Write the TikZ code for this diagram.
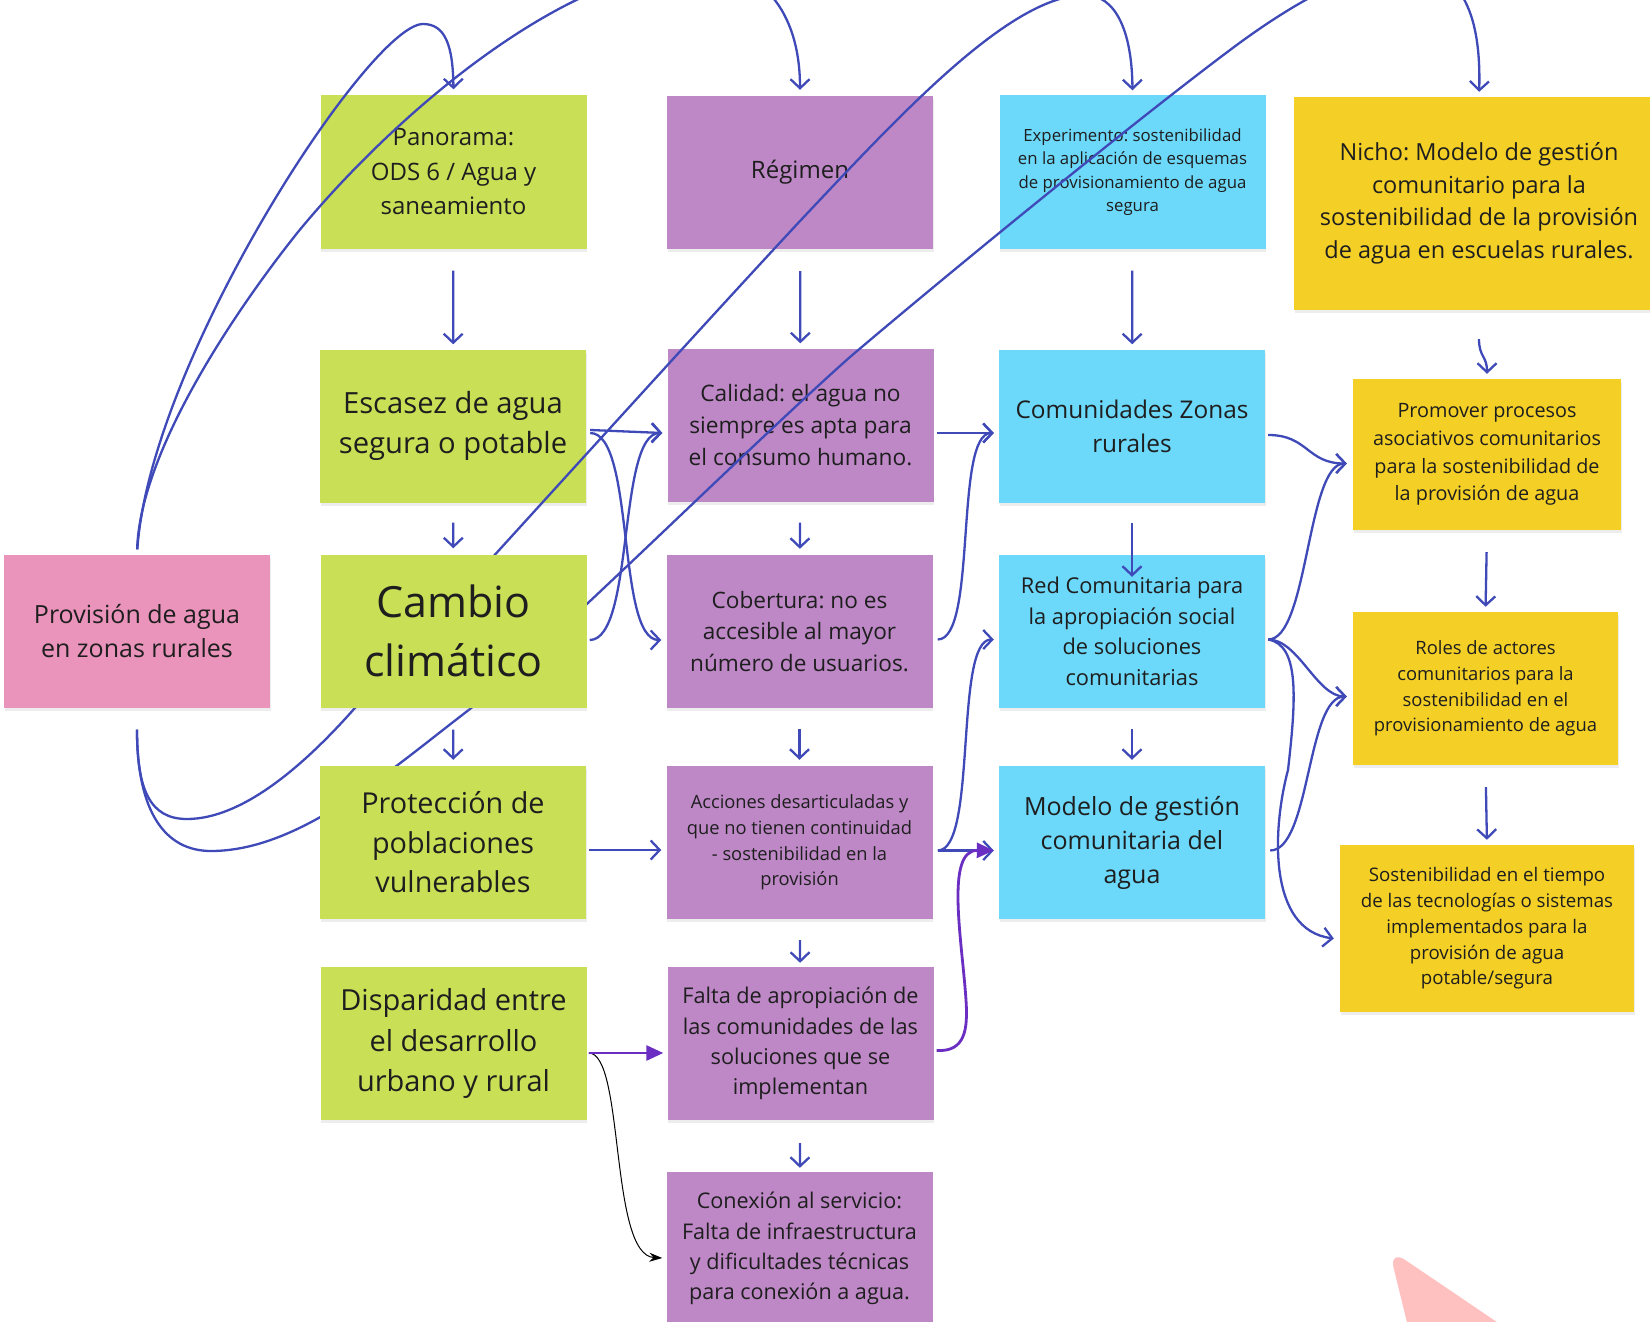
\documentclass[tikz,border=0pt]{standalone}
\usepackage{fontspec}
\setmainfont{Open Sans}
\usetikzlibrary{arrows.meta,calc,shadows}
\definecolor{cgreen}{HTML}{C9DF56}
\definecolor{cviolet}{HTML}{BE88C7}
\definecolor{ccyan}{HTML}{6CD8FA}
\definecolor{cyellow}{HTML}{F4D027}
\definecolor{cpink}{HTML}{EA94BB}
\definecolor{cblue}{HTML}{3F4AB8}
\definecolor{cpurple}{HTML}{6A2EC2}
\definecolor{ctext}{HTML}{1E1E1E}
\definecolor{cblob}{HTML}{FFC0C0}
\newcommand{\myfs}[2]{\fontsize{#1pt}{#2pt}\selectfont}
\frenchspacing
\begin{document}
\begin{tikzpicture}[x=1pt,y=-1pt,
  sticky/.style={minimum width=266pt, minimum height=153pt, inner sep=0pt, align=center, text=ctext,
    drop shadow={shadow xshift=0.5pt, shadow yshift=-3pt, opacity=0.14}},
  arr/.style={draw=cblue, line width=2.3pt, -{Straight Barb[length=9pt,width=19pt]}},
  parr/.style={draw=cpurple, line width=2.8pt, -{Triangle[length=17pt,width=15pt]}},
  barr/.style={draw=black, line width=1pt, -{Stealth[length=13pt,width=9pt]}}
]
\useasboundingbox (0,0) rectangle (1650,1322);
\clip (0,0) rectangle (1650,1322);
\fill[white] (0,0) rectangle (1650,1322);

% decorative blob bottom right
\fill[cblob, rounded corners=20pt] (1389,1249) -- (1612,1400) -- (1426,1400) -- cycle;

% boxes (first layer)
\node[sticky, fill=cgreen, font=\myfs{24}{34.5}] (P) at (453.5,172) {Panorama:\\ODS 6 / Agua y\\saneamiento};
\node[sticky, fill=cviolet, font=\myfs{24}{34}] (R) at (800,172.5) {Régimen};
\node[sticky, fill=ccyan, font=\myfs{16.8}{23.5}] (E) at (1132.5,172) {Experimento: sostenibilidad\\en la aplicación de esquemas\\de provisionamiento de agua\\segura};
\node[sticky, fill=cyellow, minimum width=370pt, minimum height=213pt, font=\myfs{23.5}{32.6}] (N) at (1479,203.5) {Nicho: Modelo de gestión\\comunitario para la\\sostenibilidad de la provisión\\de agua en escuelas rurales.};
\node[sticky, fill=cgreen, font=\myfs{29.2}{40}] (Es) at (453,426) {Escasez de agua\\segura o potable};
\node[sticky, fill=cviolet, font=\myfs{22.7}{31.6}] (Ca) at (800.5,425) {Calidad: el agua no\\siempre es apta para\\el consumo humano.};
\node[sticky, fill=ccyan, font=\myfs{24.4}{33.7}] (Co) at (1132,426) {Comunidades Zonas\\rurales};
\node[sticky, fill=cyellow, minimum width=268pt, minimum height=151pt, font=\myfs{19.8}{27.7}] (Pr) at (1487,454.5) {Promover procesos\\asociativos comunitarios\\para la sostenibilidad de\\la provisión de agua};
\node[sticky, fill=cpink, font=\myfs{25}{33.7}] (Pv) at (137,631) {Provisión de agua\\en zonas rurales};
\node[sticky, fill=cviolet, font=\myfs{22.6}{31.6}] (Cb) at (799.5,631.5) {Cobertura: no es\\accesible al mayor\\número de usuarios.};
\node[sticky, fill=ccyan, font=\myfs{21.8}{30.5}] (Rd) at (1132,631.5) {Red Comunitaria para\\la apropiación social\\de soluciones\\comunitarias};
\node[sticky, fill=cyellow, minimum width=265pt, font=\myfs{18.4}{25.6}] (Ro) at (1485.5,688.5) {Roles de actores\\comunitarios para la\\sostenibilidad en el\\provisionamiento de agua};
\node[sticky, fill=cviolet, font=\myfs{18.3}{25.8}] (Ac) at (799.5,842.5) {Acciones desarticuladas y\\que no tienen continuidad\\- sostenibilidad en la\\provisión};
\node[sticky, fill=ccyan, font=\myfs{25}{34}] (Mo) at (1132,842.5) {Modelo de gestión\\comunitaria del\\agua};
\node[sticky, fill=cyellow, minimum width=294pt, minimum height=167pt, font=\myfs{18.7}{25.8}] (So) at (1487,928.5) {Sostenibilidad en el tiempo\\de las tecnologías o sistemas\\implementados para la\\provisión de agua\\potable/segura};
\node[sticky, fill=cgreen, font=\myfs{29}{40.5}] (Di) at (453.5,1043.5) {Disparidad entre\\el desarrollo\\urbano y rural};
\node[sticky, fill=cviolet, font=\myfs{21.7}{30.2}] (Fa) at (800.5,1043.5) {Falta de apropiación de\\las comunidades de las\\soluciones que se\\implementan};
\node[sticky, fill=cviolet, font=\myfs{21.6}{30.2}] (Cx) at (799.5,1248.5) {Conexión al servicio:\\Falta de infraestructura\\y dificultades técnicas\\para conexión a agua.};

% long curves from Provision
\draw[arr, shorten <=5pt, shorten >=6pt] (Pv.north) .. controls (150,360) and (370,24) .. (423,24) .. controls (445,24) and (453,45) .. (P.north);
\draw[arr, shorten <=5pt, shorten >=6pt] (Pv.north) .. controls (140,450) and (238,307) .. (298,232) .. controls (390,120) and (560,-30) .. (700,-35) .. controls (760,-35) and (800,10) .. (R.north);
\draw[arr, shorten <=22pt, shorten >=5pt] (Pv.south) .. controls (137,790) and (150,819) .. (187,819) .. controls (240,819) and (300,770) .. (354,709) .. controls (500,550) and (680,350) .. (800,221) .. controls (900,115) and (1010,-5) .. (1085,-5) .. controls (1115,-5) and (1132,30) .. (E.north);
\draw[arr, shorten <=22pt, shorten >=5pt] (Pv.south) .. controls (137,812) and (165,851) .. (211,851) .. controls (300,851) and (390,770) .. (470,709) .. controls (560,635) and (740,455) .. (850,357) .. controls (950,272) and (1130,125) .. (1230,50) .. controls (1330,-25) and (1485,-110) .. (N.north);

% boxes drawn above the long curves
\node[sticky, fill=cgreen, font=\myfs{43}{59}] (Cc) at (453.5,631) {Cambio\\climático};
\node[sticky, fill=cgreen, font=\myfs{28.8}{39.5}] (Pt) at (453,842.5) {Protección de\\poblaciones\\vulnerables};

% vertical arrows
\draw[arr, shorten <=22pt, shorten >=5pt] (P) -- (Es);
\draw[arr, shorten <=22pt, shorten >=5pt] (R) -- (Ca);
\draw[arr, shorten <=22pt, shorten >=5pt] (E) -- (Co);
\draw[arr, shorten <=20pt, shorten >=6pt] (Es) -- (Cc);
\draw[arr, shorten <=21pt, shorten >=6pt] (Ca) -- (Cb);
\draw[arr, shorten <=20pt] (Co.south) -- ($(Rd.north)+(0,22)$);
\draw[arr, shorten <=22pt, shorten >=6pt] (Cc) -- (Pt);
\draw[arr, shorten <=21pt, shorten >=6pt] (Cb) -- (Ac);
\draw[arr, shorten <=21pt, shorten >=6pt] (Rd) -- (Mo);
\draw[arr, shorten <=21pt, shorten >=4pt] (Ac) -- (Fa);
\draw[arr, shorten <=23pt, shorten >=4pt] (Fa) -- (Cx);
\draw[arr] ($(N.south)+(0,29)$) .. controls +(0,18) and +(0,-18) .. ($(Pr.north)+(0,-5)$);
\draw[arr, shorten <=22pt, shorten >=5pt] (Pr.south) -- (Ro.north);
\draw[arr, shorten <=22pt, shorten >=5pt] (Ro.south) -- (So.north);

% column 1 -> column 2
\draw[arr] ($(Es.east)+(4,4)$) -- ($(Ca.west)+(-5,8)$);
\draw[arr] ($(Es.east)+(4,7)$) .. controls +(45,0) and +(-45,0) .. ($(Cb.west)+(-5,8.5)$);
\draw[arr] ($(Cc.east)+(3,9)$) .. controls +(45,0) and +(-45,0) .. ($(Ca.west)+(-5,8)$);
\draw[arr] ($(Pt.east)+(3,7.5)$) -- ($(Ac.west)+(-5,7.5)$);
\draw[barr] ($(Di.east)+(2,9.5)$) .. controls +(36,0) and +(-53,-3) .. ($(Cx.west)+(-4,9.5)$);
\draw[parr] ($(Di.east)+(2,9.5)$) -- ($(Fa.west)+(-4,9.5)$);

% column 2 -> column 3
\draw[arr] ($(Ca.east)+(3,8)$) -- ($(Co.west)+(-5,7)$);
\draw[arr] ($(Cb.east)+(5,8)$) .. controls +(40,0) and +(-40,0) .. ($(Co.west)+(-5,7)$);
\draw[arr] ($(Ac.east)+(5,8)$) .. controls +(40,0) and +(-40,0) .. ($(Rd.west)+(-5,8)$);
\draw[arr] ($(Ac.east)+(5,8)$) -- ($(Mo.west)+(-5,8)$);
\draw[parr] ($(Fa.east)+(3,7)$) .. controls (965,1052) and (968,1030) .. (966,1000) .. controls (962,940) and (945,850) .. ($(Mo.west)+(-5,8)$);

% column 3 -> column 4
\draw[arr] ($(Co.east)+(3,9)$) .. controls +(40,0) and +(-40,0) .. ($(Pr.west)+(-6,9)$);
\draw[arr] ($(Rd.east)+(3,8)$) .. controls +(40,0) and +(-40,0) .. ($(Pr.west)+(-6,9)$);
\draw[arr] ($(Rd.east)+(3,8)$) .. controls +(30,0) and +(-30,0) .. ($(Ro.west)+(-6,8)$);
\draw[arr] ($(Rd.east)+(3,8)$) .. controls (1300,645) and (1296,700) .. (1288,770) .. controls (1272,830) and (1268,930) .. ($(So.west)+(-6,10)$);
\draw[arr] ($(Mo.east)+(5,8)$) .. controls +(40,0) and +(-40,0) .. ($(Ro.west)+(-6,8)$);
\end{tikzpicture}
\end{document}
